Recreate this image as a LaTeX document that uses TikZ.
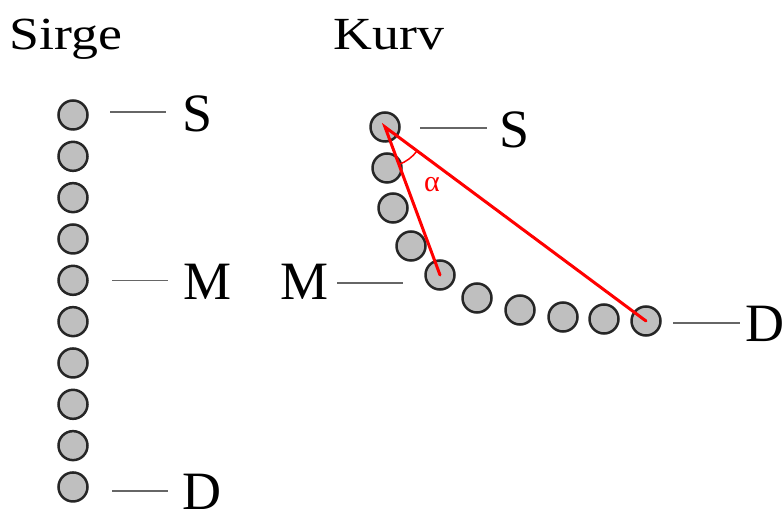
\documentclass[tikz,border=0pt]{standalone}
\usepackage{fontspec}
\setmainfont{Liberation Serif}
\newcommand{\bigtxt}{\fontsize{54}{54}\selectfont}
\newcommand{\headtxt}{\fontsize{46}{46}\selectfont}
\begin{document}
\begin{tikzpicture}[x=1pt,y=1pt,
    bead/.style={circle,draw=black!85,fill=gray!50,line width=2.5pt,
      minimum size=29pt,inner sep=0pt},
    leader/.style={draw=black!60,line width=1.3pt},
    lbl/.style={inner sep=0pt,anchor=base west,font=\bigtxt},
    head/.style={inner sep=0pt,anchor=base,font=\headtxt,xscale=1.17,transform shape},
    redline/.style={red,line width=3pt,line cap=round}]
  \useasboundingbox (0,0) rectangle (783,508);
  % titles
  \node[head] (sirge) at (66,458) {Sirge};
  \node[head] (kurv) at (389,458) {Kurv};
  % straight chain
  \foreach \i in {1,...,10}
    \node[bead] (a\i) at (73,{393-41.33*(\i-1)}) {};
  \node[lbl] (aS) at (182,376) {S};
  \node[lbl] (aM) at (183,208) {M};
  \node[lbl] (aD) at (182,-1) {D};
  \draw[leader] ([xshift=37pt,yshift=3pt]a1.center) -- ([xshift=93pt,yshift=3pt]a1.center);
  \draw[leader] ([xshift=39pt]a5.center) -- ([xshift=95pt]a5.center);
  \draw[leader] ([xshift=39pt,yshift=-4pt]a10.center) -- ([xshift=95pt,yshift=-4pt]a10.center);
  % curved chain
  \foreach \x/\y [count=\i] in {385/381,387/340,393/300,411/262,440/233,
      477/210,520/198,563/191,604/189,646/187}
    \node[bead] (b\i) at (\x,\y) {};
  \node[lbl] (bS) at (499,360) {S};
  \node[lbl,anchor=base east] (bM) at (329,208) {M};
  \node[lbl] (bD) at (745,166) {D};
  \draw[leader] ([xshift=35pt,yshift=-1pt]b1.center) -- ([xshift=102pt,yshift=-1pt]b1.center);
  \draw[leader] ([xshift=-103pt,yshift=-8pt]b5.center) -- ([xshift=-37pt,yshift=-8pt]b5.center);
  \draw[leader] ([xshift=27pt,yshift=-2pt]b10.center) -- ([xshift=94pt,yshift=-2pt]b10.center);
  % angle
  \draw[redline] (b5.center) -- (b1.center) -- (b10.center);
  \draw[red,line width=1.5pt] ([shift={(-70:40pt)}]b1.center) arc[start angle=-70,end angle=-36.6,radius=40pt];
  \node[red,inner sep=0pt,font=\fontsize{30}{30}\selectfont] (alpha) at (432,323) {α};
\end{tikzpicture}
\end{document}
